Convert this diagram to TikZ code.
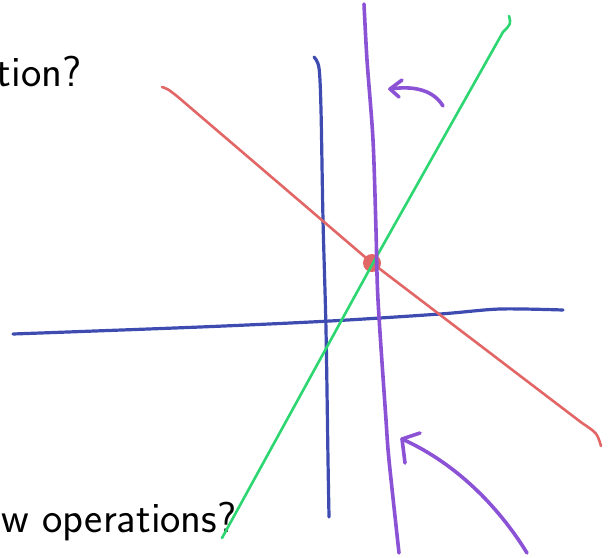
\documentclass[tikz,border=0pt]{standalone}
\usetikzlibrary{positioning}
\definecolor{sketchred}{RGB}{226,102,102}
\definecolor{sketchgreen}{RGB}{44,214,112}
\definecolor{sketchblue}{RGB}{62,76,178}
\definecolor{sketchpurple}{RGB}{140,82,214}

\begin{document}
\begin{tikzpicture}[
  x=0.5pt, y=-0.5pt,
  every node/.style={inner sep=0pt},
  caption/.style={font=\fontsize{21.6}{26}\selectfont\sffamily, anchor=base east},
  redline/.style={draw=sketchred, line width=1.3pt, line cap=round, line join=round},
  greenline/.style={draw=sketchgreen, line width=1.3pt, line cap=round, line join=round},
  blueline/.style={draw=sketchblue, line width=1.6pt, line cap=round, line join=round},
  purpleline/.style={draw=sketchpurple, line width=1.8pt, line cap=round, line join=round},
  meet/.style={circle, fill=sketchred, minimum size=9pt}]
  \useasboundingbox (0,0) rectangle (609,557);

  % texts cut by the left edge
  \node[caption] (top)    at (82,86)  {tion?};
  \node[caption] (bottom) at (237,532) {w operations?};

  % end points
  \coordinate (r1) at (162,87);
  \coordinate (r2) at (601,446);
  \coordinate (g1) at (222,538);
  \coordinate (g2) at (509,16);
  \node[meet] (dot) at (372,263) {};

  % the lines
  \draw[blueline] plot[smooth] coordinates {(13,334) (200,327) (330,321) (440,314) (500,309) (563,310)};
  \draw[blueline] plot[smooth] coordinates {(314,57) (319,68) (321,110) (323,220) (326,330) (328,460) (329,517)};
  \draw[redline] (r1) .. controls (168,89) .. (178,97) -- (dot.center) -- (582,423) .. controls (597,433) .. (r2);
  \draw[greenline] (g1) -- (373,263) -- (503,32) .. controls (511,24) .. (g2);
  \draw[purpleline] plot[smooth] coordinates {(364,4) (367,60) (373,140) (376,230) (378,300) (386,420) (389,460) (399,553)};

  % arrows
  \coordinate (a1) at (443,106);
  \coordinate (t1) at (390,89);
  \draw[purpleline] (a1) .. controls (432,88) and (410,86) .. (t1);
  \draw[purpleline] (402,80) -- (t1) -- (399,97);
  \coordinate (a2) at (527,553);
  \coordinate (t2) at (402,439);
  \draw[purpleline] (a2) .. controls (502,512) and (460,465) .. (t2);
  \draw[purpleline] (420,433) -- (t2) -- (405,463);
\end{tikzpicture}
\end{document}
